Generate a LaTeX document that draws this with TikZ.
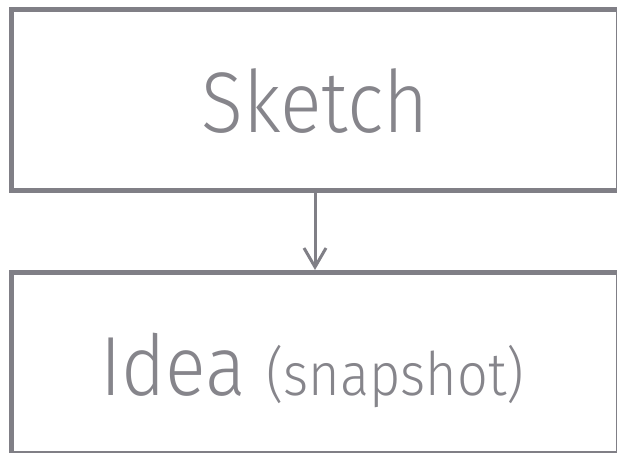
\documentclass[tikz,border=0pt]{standalone}
\usepackage{fontspec}
\setmainfont{Fira Sans}[UprightFont=* Light, FakeStretch=0.9]
\usetikzlibrary{arrows.meta}
\definecolor{ink}{HTML}{807F86}
\definecolor{txt}{HTML}{86858B}
\begin{document}
\begin{tikzpicture}[x=1pt,y=1pt,
  frame/.style={draw=ink, line width=5pt, minimum width=607pt, minimum height=181pt, inner sep=0pt},
  label/.style={text=txt, inner sep=0pt, anchor=base},
  link/.style={draw=ink, line width=3pt, -{Straight Barb[length=19pt, width=22pt, line width=3pt]}}]
  \useasboundingbox (0,0) rectangle (617,452);
  \clip (0,0) rectangle (617,452);
  % the two stacked boxes
  \node[frame] (sketch) at (314.5,352) {};
  \node[frame] (idea) at (314.5,89) {};
  % their captions
  \node[label, font=\fontsize{86}{90}\selectfont] (sketchtext) at (315,319) {Sketch};
  \node[label, font=\fontsize{84}{90}\selectfont, anchor=base west] (ideatext) at (100,57) {Idea};
  \node[label, font=\fontsize{60}{64}\selectfont, anchor=base west] (snaptext) at (266,57) {(snapshot)};
  % connector
  \draw[link] (sketch.south -| 315,0) -- (idea.north -| 315,0);
\end{tikzpicture}
\end{document}
